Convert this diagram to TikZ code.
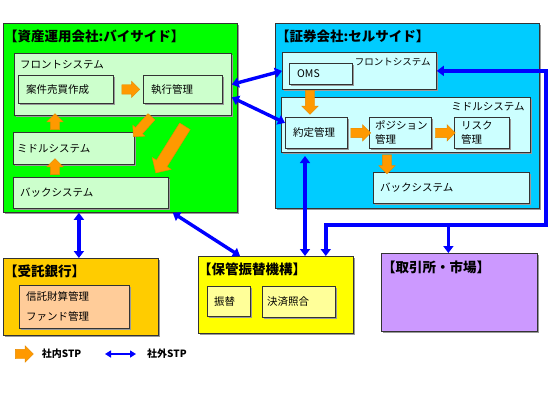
\documentclass[tikz,border=0pt]{standalone}
\usepackage{fontspec}
\setmainfont{Noto Sans CJK JP}
\usetikzlibrary{shapes,shapes.arrows,positioning,calc,arrows.meta,shadows}

\definecolor{buygreen}{HTML}{00FF00}
\definecolor{buylight}{HTML}{CCFFCC}
\definecolor{sellcyan}{HTML}{00CCFF}
\definecolor{selllight}{HTML}{CCFFFF}
\definecolor{bankgold}{HTML}{FFCC00}
\definecolor{banklight}{HTML}{FFCC99}
\definecolor{custyellow}{HTML}{FFFF00}
\definecolor{custlight}{HTML}{FFFF99}
\definecolor{exchpurple}{HTML}{CC99FF}
\definecolor{stporange}{HTML}{FF9900}
\definecolor{stpblue}{HTML}{0000FF}

\begin{document}
\begin{tikzpicture}[
            x=1pt, y=-1pt,
            font=\fontsize{10.5}{12}\selectfont,
            panel/.style={
                rectangle,
                draw=black!80,
                thick,
                anchor=north west,
                inner sep=0pt,
                drop shadow={shadow xshift=1.5pt, shadow yshift=-1.5pt, fill=black!40, opacity=1}
            },
            title/.style={
                inner sep=0pt,
                font=\fontsize{13.5}{15}\selectfont\bfseries
            },
            label/.style={
                inner sep=0pt,
                align=left
            },
            intra/.style={
                single arrow,
                fill=stporange,
                draw=stporange!90!black,
                thin,
                inner sep=4.5pt,
                single arrow head extend=3.5pt,
                minimum height=18pt
            },
            bigintra/.style={
                intra,
                inner sep=6pt,
                single arrow head extend=5pt
            },
            ext/.style={
                draw=stpblue,
                line width=3.4pt,
                <->
            },
            >={Triangle[length=7pt,width=10pt]},
        ]

            \useasboundingbox (0,0) rectangle (550,400);

            \begin{scope}[local bounding box = buyside]
                \node[panel, fill=buygreen, minimum width=234pt, minimum height=189pt] (buy) at (3,23) {};
                \node[title, below right=7pt and 1pt of buy.north west] {【資産運用会社:バイサイド】};

                \node[panel, fill=buylight, minimum width=217pt, minimum height=62pt] (bfront) at (14,53) {};
                \node[label, below right=7pt and 6pt of bfront.north west] {フロントシステム};

                \node[panel, fill=buylight, minimum width=95pt, minimum height=28pt] (order) at (18,75) {};
                \node[label, right=8pt of order.west] {案件売買作成};

                \node[panel, fill=buylight, minimum width=79pt, minimum height=28pt] (exec) at (143,75) {};
                \node[label, right=8pt of exec.west] {執行管理};

                \node[panel, fill=buylight, minimum width=121pt, minimum height=32pt] (bmid) at (13,132) {};
                \node[label, right=4pt of bmid.west] {ミドルシステム};

                \node[panel, fill=buylight, minimum width=155pt, minimum height=31pt] (bback) at (13,177) {};
                \node[label, right=7pt of bback.west] {バックシステム};

                \node[intra] (b1) at ($(order.east)!0.5!(exec.west)$) {};
                \node[intra, rotate=90, minimum height=16pt] (b2) at (55,124) {};
                \node[intra, rotate=90, minimum height=16pt] (b3) at (55,169) {};
                \node[intra, rotate=228, minimum height=27pt] (b4) at (144,125) {};
                \node[bigintra, rotate=238, minimum height=55pt] (b5) at (172,147) {};
            \end{scope}

            \begin{scope}[local bounding box = sellside]
                \node[panel, fill=sellcyan, minimum width=264pt, minimum height=185pt] (sell) at (275,23) {};
                \node[title, below right=7pt and 1pt of sell.north west] {【証券会社:セルサイド】};

                \node[panel, fill=selllight, minimum width=154pt, minimum height=37pt] (sfront) at (282,52) {};
                \node[label, below left=6pt and 6pt of sfront.north east, font=\fontsize{9.5}{11}\selectfont] {フロントシステム};

                \node[panel, fill=selllight, minimum width=63pt, minimum height=21pt] (oms) at (289,63) {};
                \node[label, right=8pt of oms.west] {OMS};

                \node[panel, fill=selllight, minimum width=249pt, minimum height=55pt] (smid) at (281,97) {};
                \node[label, below left=5pt and 6pt of smid.north east] {ミドルシステム};

                \node[panel, fill=selllight, minimum width=62pt, minimum height=31pt] (contract) at (285,117) {};
                \node[label, right=8pt of contract.west] {約定管理};

                \node[panel, fill=selllight, minimum width=62pt, minimum height=31pt] (position) at (369,117) {};
                \node[label, right=6pt of position.west, font=\fontsize{10.5}{14}\selectfont] {ポジション\\管理};

                \node[panel, fill=selllight, minimum width=55pt, minimum height=31pt] (risk) at (454,117) {};
                \node[label, right=7pt of risk.west, font=\fontsize{10.5}{14}\selectfont] {リスク\\管理};

                \node[panel, fill=selllight, minimum width=156pt, minimum height=31pt] (sback) at (373,172) {};
                \node[label, right=7pt of sback.west] {バックシステム};

                \node[intra, rotate=-90, minimum height=24pt] (s1) at (310,100) {};
                \node[intra, minimum height=20pt] (s2) at ($(contract.east)!0.5!(position.west)$) {};
                \node[intra, minimum height=20pt] (s3) at ($(position.east)!0.5!(risk.west)$) {};
                \node[intra, rotate=-90, minimum height=19pt] (s4) at (387,162) {};
            \end{scope}

            \node[panel, fill=bankgold, minimum width=155pt, minimum height=77pt] (bank) at (3,258) {};
            \node[title, below right=7pt and 1pt of bank.north west] {【受託銀行】};
            \node[panel, fill=banklight, minimum width=110pt, minimum height=43pt] (trust) at (19,285) {};
            \node[label, right=7pt of trust.west, font=\fontsize{10.5}{20}\selectfont] {信託財算管理\\ファンド管理};

            \node[panel, fill=custyellow, minimum width=155pt, minimum height=77pt] (cust) at (198,256) {};
            \node[title, below right=7pt and 0pt of cust.north west] {【保管振替機構】};
            \node[panel, fill=custlight, minimum width=43pt, minimum height=30pt] (transfer) at (207,286) {};
            \node[label, right=7pt of transfer.west] {振替};
            \node[panel, fill=custlight, minimum width=73pt, minimum height=31pt] (match) at (262,286) {};
            \node[label, right=5pt of match.west] {決済照合};

            \node[panel, fill=exchpurple, minimum width=156pt, minimum height=78pt] (exch) at (381,253) {};
            \node[title, below right=8pt and 1pt of exch.north west] {【取引所・市場】};

            \draw[ext] (bfront.east) -- (sfront.west);
            \draw[ext] ([yshift=-13pt]bfront.east) -- ([yshift=10pt]contract.west);
            \draw[ext] ([xshift=-2pt]bank.north) -- ([xshift=-2pt]bank.north |- buy.south);
            \draw[ext] ([xshift=-65pt]buy.south east) -- ([xshift=42pt]cust.north west);

            \coordinate (riser) at (305,156);
            \draw[ext] (riser) -- (riser |- cust.north);

            \coordinate (bus) at (546,225);
            \draw[ext] (sfront.east) -| (bus) -| ([xshift=-28pt]cust.north east);
            \draw[ext, <-] ([xshift=-11pt]exch.north) -- ([xshift=-11pt]exch.north |- bus);

            \node[intra, minimum height=18pt] (keyintra) at (22,354) {};
            \node[label, right=8pt of keyintra, font=\fontsize{10}{12}\selectfont\bfseries] {社内STP};
            \coordinate (keyA) at (105,354);
            \coordinate (keyB) at (136,354);
            \draw[ext, line width=2.4pt, >={Triangle[length=6pt,width=7pt]}] (keyA) -- (keyB);
            \node[label, right=11pt of keyB, font=\fontsize{10}{12}\selectfont\bfseries] {社外STP};
        \end{tikzpicture}
\end{document}
